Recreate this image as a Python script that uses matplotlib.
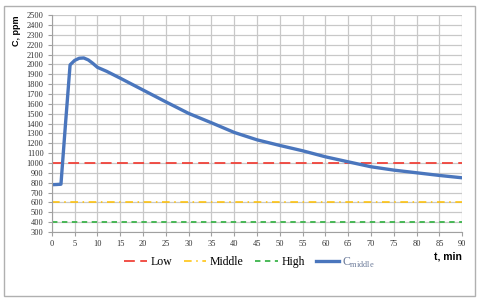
import matplotlib.pyplot as plt
from matplotlib.patches import Rectangle

# Data
t = [0, 1, 2, 3, 4, 5, 6, 7, 8, 9, 10, 12, 15, 20, 25, 30, 35, 40, 45, 50, 55, 60, 65, 70, 75, 80, 85, 90]
c_middle = [780, 782, 785, 1400, 1995, 2040, 2062, 2065, 2045, 2010, 1970, 1930, 1860, 1740, 1620,
            1503, 1408, 1310, 1235, 1178, 1124, 1063, 1012, 962, 928, 901, 874, 850]
low_level = 1000
middle_level = 600
high_level = 400
x_ticks = list(range(0, 91, 5))
y_ticks = list(range(300, 2501, 100))

fig = plt.figure(figsize=(4.8, 3.01), dpi=100)
ax = fig.add_axes([0.108, 0.229, 0.855, 0.721])

ax.axhline(low_level, color="#f0433a", lw=1.3, ls=(0, (6, 3)), label="Low")
ax.axhline(middle_level, color="#ffc000", lw=1.1, ls=(0, (5, 3, 1, 3)), label="Middle")
ax.axhline(high_level, color="#3cb44b", lw=1.3, ls=(0, (3, 2.5)), label="High")
ax.plot(t, c_middle, color="#4a76bd", lw=2.4, label=r"C$_{\mathregular{middle}}$")

ax.set_xlim(0, 90)
ax.set_ylim(300, 2500)
ax.set_xticks(x_ticks)
ax.set_yticks(y_ticks)
ax.grid(True, color="#c8c8c8", lw=0.9)
ax.set_axisbelow(True)
for s in ["top", "right"]:
    ax.spines[s].set_visible(False)
for s in ["left", "bottom"]:
    ax.spines[s].set_color("#a0a0a0")
ax.tick_params(length=3, color="#a0a0a0", labelsize=6, labelcolor="#333333", pad=3)
for lbl in ax.get_xticklabels() + ax.get_yticklabels():
    lbl.set_family("Liberation Serif")

fig.text(0.035, 0.95, "C, ppm", rotation=90, ha="center", va="top",
         fontsize=6.5, fontweight="bold", family="Liberation Sans")
fig.text(0.963, 0.147, "t, min", ha="right", va="center",
         fontsize=7.5, fontweight="bold", family="Liberation Sans")

leg = fig.legend(loc="center", bbox_to_anchor=(0.52, 0.128), ncol=4, frameon=False,
                 prop={"family": "Liberation Serif", "size": 8.5},
                 handlelength=1.9, handletextpad=0.3, columnspacing=1.0)
leg.get_texts()[3].set_color("#6b7a99")

fig.patches.append(Rectangle((4 / 480, 5 / 301), 471 / 480, 290 / 301, transform=fig.transFigure,
                             fill=False, edgecolor="#b0b0b0", lw=1))

fig.savefig("out.png", dpi=100)
